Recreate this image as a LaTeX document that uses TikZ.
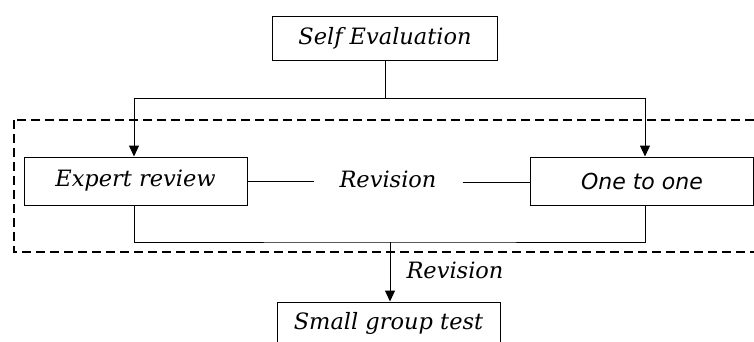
\documentclass[tikz,border=0pt]{standalone}
\usepackage{fontspec}
\setmainfont{DejaVu Serif}
\newfontfamily\ottfont{DejaVu Sans}
\usetikzlibrary{arrows.meta}
\begin{document}
\begin{tikzpicture}[x=1pt,y=-1pt,
  box/.style={draw, line width=1pt, minimum height=#1, inner sep=0pt, font=\fontsize{22.5}{24}\selectfont\itshape},
  box/.default=44pt,
  conn/.style={line width=1pt},
  arr/.style={conn, -{Triangle[length=11pt,width=10pt]}},
  lbl/.style={font=\fontsize{22.5}{24}\selectfont\itshape, inner sep=1pt}]
\useasboundingbox (0,0) rectangle (754,341);
\clip (0,0) rectangle (754,341);
\draw[line width=1.1pt, dash pattern=on 9pt off 5pt] (14,120) rectangle (770,252);
\node[box=44pt, minimum width=225pt] (self) at (385,38) {Self Evaluation};
\node[box=48pt, minimum width=223pt] (exp) at (135.5,181) {Expert review};
\node[box=48pt, minimum width=223pt, font=\fontsize{22}{24}\ottfont\itshape] (one) at (642,181) {One to one};
\node[lbl] (rev1) at (388,179) {Revision};
\node[lbl] (rev2) at (455,270) {Revision};
\node[draw, line width=1pt, minimum width=223pt, minimum height=60pt, inner sep=0pt] (small) at (388.5,332) {};
\node[lbl] (smallt) at (388.5,323) {Small group test};
\coordinate (top) at (385,98);
\coordinate (bot) at (390,242);
\draw[conn] (self.south) -- (top);
\draw[arr] (top) -| ([xshift=-1.5pt]exp.north);
\draw[arr] (top) -| ([xshift=3pt]one.north);
\draw[conn] (exp.east) -- ([xshift=-24pt]rev1.west |- exp.east);
\draw[conn] ([xshift=25pt]rev1.east |- 0,182) -- (one.west |- 0,182);
\draw[conn] ([xshift=-1.5pt]exp.south) |- (bot) -| ([xshift=3pt]one.south);
\draw[arr] (bot) -- (small.north -| bot);
\end{tikzpicture}
\end{document}
